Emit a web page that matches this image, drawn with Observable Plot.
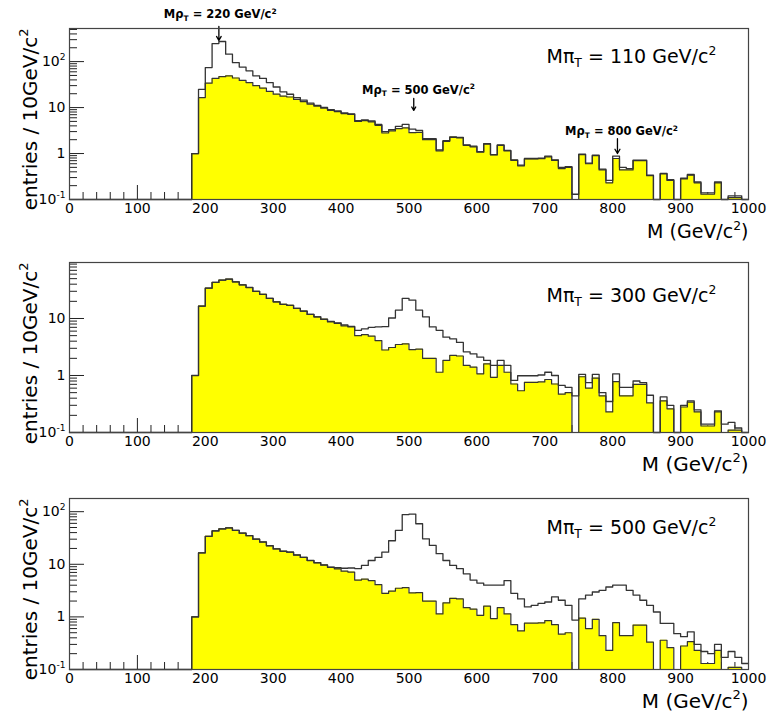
<!DOCTYPE html>
<html><head><meta charset="utf-8">
<script src="https://cdn.jsdelivr.net/npm/d3@7"></script>
<script src="https://cdn.jsdelivr.net/npm/@observablehq/plot@0.6"></script>
<style>
body{margin:0;background:#fff;}
#chart{width:770px;height:719px;}
#chart svg{display:block;}
</style></head><body><div id="chart"></div>
<script>
// lower edges of the 10 GeV/c^2 bins (GeV/c^2)
const binLow = [180,190,200,210,220,230,240,250,260,270,280,290,300,310,320,330,340,350,360,370,
  380,390,400,410,420,430,440,450,460,470,480,490,500,510,520,530,540,550,560,570,
  580,590,600,610,620,630,640,650,660,670,680,690,700,710,720,730,740,750,760,770,
  780,790,800,810,820,830,840,850,860,870,880,890,900,910,920,930,940,950,960,970,980,990];

// background (yellow, identical in the three panels)
const background = [
  1.0,16.5,34,43,47,49,44,39,35,30,
  26.5,22.5,19.6,17.7,17,15,13.5,11.8,10.7,9.7,
  8.7,8.2,7.4,7.1,5.0,5.2,4.9,4.1,2.8,3.1,
  3.5,3.6,2.85,2.9,2.0,2.0,1.14,1.84,2.25,2.2,
  1.5,1.4,1.07,1.6,0.93,1.5,1.14,0.71,0.54,0.76,
  0.76,0.77,0.85,0.71,0.47,0.5,0,0.95,0.6,0.9,
  0.44,0.23,0.78,0.44,0.44,0.7,0.7,0.33,0,0.36,
  0.26,0,0.28,0.34,0.23,0.13,0.13,0.23,0,0.11,
  0.11,0];

// signal + background (black outline), M(pi_T) = 110, 300, 500 GeV/c^2
const total110 = [
  1.0,25,74,247,274,145,95,76,63,49,
  43,35,28,22,19.5,16.5,14.5,12.5,11.2,10.1,
  9.0,8.5,7.7,7.3,5.2,5.4,5.1,4.3,3.0,3.3,
  3.9,4.3,3.4,3.2,2.1,2.1,1.2,1.9,2.3,2.25,
  1.55,1.45,1.1,1.65,0.95,1.55,1.17,0.73,0.56,0.78,
  0.78,0.79,0.88,0.73,0.5,0.52,0.13,0.97,0.62,0.92,
  0.46,0.26,0.88,0.5,0.47,0.72,0.72,0.34,0,0.37,
  0.27,0,0.29,0.35,0.24,0.14,0.14,0.24,0,0.12,
  0.12,0];
const total300 = [
  1.0,16.5,34,43,47,49,44,39,35,30,
  26.5,22.5,19.6,17.7,17,15,13.5,11.8,10.7,9.7,
  8.9,8.4,7.7,7.3,6.2,6.6,7.0,7.1,7.2,10.2,
  14,22.5,21,14,10.7,7.1,6.2,4.7,4.4,3.8,
  2.6,2.4,2.1,1.84,1.5,1.84,1.5,0.82,0.99,0.99,
  0.99,1.02,1.14,1.0,0.67,0.62,0.44,1.05,0.75,1.05,
  0.5,0.35,1.07,0.62,0.62,0.8,0.75,0.45,0,0.42,
  0.3,0,0.3,0.36,0.25,0.14,0.14,0.24,0.14,0.15,
  0.12,0];
const total500 = [
  1.0,16.5,34,43,47,49,44,39,35,30,
  26.5,22.5,19.6,17.7,17,15,13.5,11.8,10.7,9.7,
  8.8,8.6,8.4,8.5,8.3,9.5,11.8,13.5,17,28,
  44,88,90,59,30.5,22.8,15.9,11.8,9.5,8.3,
  6.6,5.0,4.4,4.0,4.0,4.0,4.9,2.8,2.2,1.55,
  1.66,1.8,1.92,2.4,2.07,1.66,0.87,2.2,2.6,2.97,
  3.2,3.7,4.0,4.0,3.2,2.6,2.07,1.66,1.24,0.75,
  0.75,0.48,0.42,0.52,0.3,0.22,0.2,0.3,0.17,0.22,
  0.17,0.13];

const xTicks = [0,100,200,300,400,500,600,700,800,900,1000];
const xTickLabels = ["0","100","200","300","400","500","600","700","800","900","1000"];
const yDecades = [0.1, 1, 10, 100];
const yDecadeLabels = ["10^{-1}", "1", "10", "10^{2}"];
const panelLabels = ["Mπ_T = 110 GeV/c^2", "Mπ_T = 300 GeV/c^2", "Mπ_T = 500 GeV/c^2"];
const yTitle = "entries / 10GeV/c^2";
const xTitle = "M (GeV/c^2)";
// rho_T annotations in the first panel
const rhoLabels = ["Mρ_T = 220 GeV/c^2", "Mρ_T = 500 GeV/c^2", "Mρ_T = 800 GeV/c^2"];
const rhoLabelX = [222, 514, 813];
const rhoLabelY = [870, 20.2, 2.47];
const rhoArrowX = [220, 507, 807];
const rhoArrowFrom = [581, 15.8, 2.12];
const rhoArrowTo = [288, 8.65, 1.0];

const totals = [total110, total300, total500];
const yMax = [525, 96, 178];

const W = 770, ML = 69, MR = 22;
const layout = [
  {height: 240, top: 28, bottom: 41, legendDy: 34, xTitleDy: 38, xTitleSize: 19},
  {height: 236, top: 22, bottom: 44, legendDy: 39, xTitleDy: 38, xTitleSize: 20},
  {height: 243, top: 22, bottom: 50, legendDy: 35, xTitleDy: 38, xTitleSize: 20}
];

function steps(values) {
  const pts = [{x: 0, v: 0.1}];
  values.forEach((v, i) => pts.push({x: binLow[i], v: Math.max(v, 0.1)}));
  pts.push({x: 1000, v: Math.max(values[values.length - 1], 0.1)});
  return pts;
}

function richText(svg) {
  svg.querySelectorAll("text").forEach(t => {
    const s = t.textContent;
    if (!/[\^_]/.test(s)) return;
    const fs = parseFloat(getComputedStyle(t).fontSize) || 14;
    t.textContent = "";
    const re = /([\^_])(\{([^}]*)\}|(.))/g;
    let last = 0, m, shift = 0;
    const add = (str, kind) => {
      if (!str) return;
      const ts = document.createElementNS("http://www.w3.org/2000/svg", "tspan");
      const target = kind === "^" ? -0.42 * fs : kind === "_" ? 0.22 * fs : 0;
      const dy = target - shift;
      if (dy) ts.setAttribute("dy", dy);
      shift = target;
      if (kind) ts.setAttribute("font-size", 0.65 * fs);
      ts.textContent = str;
      t.appendChild(ts);
    };
    while ((m = re.exec(s))) {
      add(s.slice(last, m.index), null);
      add(m[3] !== undefined ? m[3] : m[4], m[1]);
      last = re.lastIndex;
    }
    add(s.slice(last), null);
  });
}

const xMinor = d3.range(0, 1001, 20).filter(d => d % 100 !== 0);
const ink = "#222";
const font = "DejaVu Sans";

layout.forEach((L, p) => {
  const innerH = L.height - L.top - L.bottom;
  const innerW = W - ML - MR;
  const ymax = yMax[p];
  const yMinor = [];
  [-1, 0, 1, 2].forEach(k => { for (let m = 2; m <= 9; m++) { const v = m * Math.pow(10, k); if (v <= ymax) yMinor.push(v); } });
  const decs = yDecades.map((d, i) => ({d, label: yDecadeLabels[i]})).filter(o => o.d <= ymax);
  const bg = steps(background);
  const tot = steps(totals[p]);
  const marks = [
    Plot.ruleX(xMinor, {x: d => d, insetTop: innerH - 7, stroke: ink, strokeWidth: 1}),
    Plot.ruleX(xTicks, {x: d => d, insetTop: innerH - 14, stroke: ink, strokeWidth: 1}),
    Plot.ruleY(yMinor, {y: d => d, insetRight: innerW - 8, stroke: ink, strokeWidth: 1}),
    Plot.ruleY(decs, {y: "d", insetRight: innerW - 15, stroke: ink, strokeWidth: 1}),
    Plot.areaY(bg, {x: "x", y1: () => 0.1, y2: "v", curve: "step-after", fill: "#ffff00"}),
    Plot.line(bg, {x: "x", y: "v", curve: "step-after", stroke: "#333", strokeWidth: 1.2}),
    Plot.line(tot, {x: "x", y: "v", curve: "step-after", stroke: "#333", strokeWidth: 1.3}),
    Plot.text(xTicks, {x: d => d, text: (d, i) => xTickLabels[i], frameAnchor: "bottom", dy: 13, fontSize: 14, fontFamily: font, fill: "#000"}),
    Plot.text(decs, {y: "d", text: "label", frameAnchor: "left", dx: -4, textAnchor: "end", fontSize: 14, fontFamily: font, fill: "#000"}),
    Plot.text([panelLabels[p]], {frameAnchor: "top-left", dx: 477, dy: L.legendDy, textAnchor: "start", lineAnchor: "bottom", fontSize: 19, fontFamily: font, fill: "#000"}),
    Plot.text([xTitle], {frameAnchor: "bottom-right", dy: L.xTitleDy, textAnchor: "end", lineAnchor: "bottom", fontSize: L.xTitleSize, fontFamily: font, fill: "#000"}),
    Plot.text([yTitle], {frameAnchor: "top-left", dx: -33, rotate: -90, textAnchor: "end", lineAnchor: "bottom", fontSize: 20, fontFamily: font, fill: "#000"})
  ];
  if (p === 0) {
    const ann = rhoLabels.map((t, i) => ({t, lx: rhoLabelX[i], ly: rhoLabelY[i], ax: rhoArrowX[i], a1: rhoArrowFrom[i], a2: rhoArrowTo[i]}));
    marks.push(
      Plot.text(ann, {x: "lx", y: "ly", text: "t", lineAnchor: "bottom", fontSize: 11.5, fontWeight: "bold", fontFamily: font, fill: "#000"}),
      Plot.arrow(ann, {x1: "ax", x2: "ax", y1: "a1", y2: "a2", stroke: "#000", strokeWidth: 1.3, headLength: 6})
    );
  }
  marks.push(Plot.frame({stroke: "#444", strokeWidth: 1.2}));
  const svg = Plot.plot({
    width: W, height: L.height,
    marginLeft: ML, marginRight: MR, marginTop: L.top, marginBottom: L.bottom,
    style: {background: "white", fontFamily: font, color: "#000", overflow: "visible"},
    x: {domain: [0, 1000], axis: null},
    y: {type: "log", domain: [0.1, ymax], axis: null},
    marks
  });
  document.getElementById("chart").appendChild(svg);
  richText(svg);
});
</script></body></html>
